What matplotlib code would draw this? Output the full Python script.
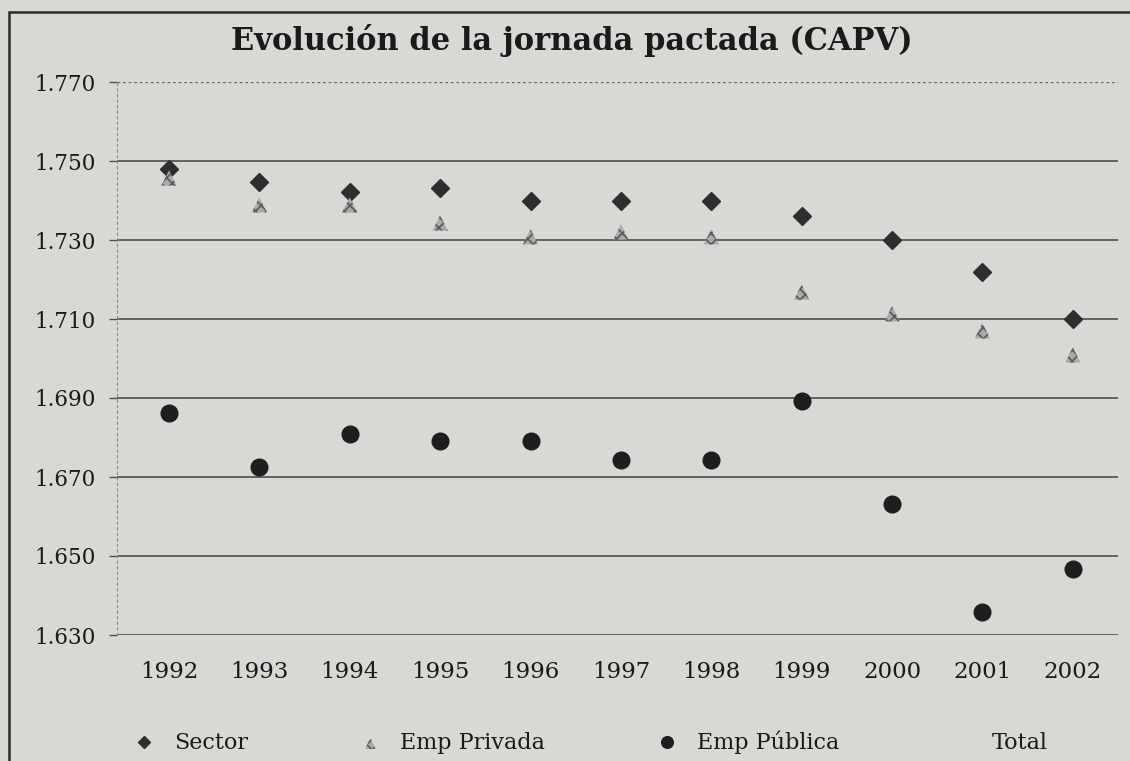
import numpy as np
import matplotlib
matplotlib.use("Agg")
import matplotlib.pyplot as plt
from matplotlib.patches import Rectangle
from matplotlib.ticker import FuncFormatter

years = ["1992", "1993", "1994", "1995", "1996", "1997", "1998", "1999", "2000", "2001", "2002"]
sector = [1748, 1744.7, 1742.2, 1743.2, 1740, 1740, 1740, 1736, 1730, 1722, 1710]
privada = [1745.7, 1738.9, 1738.9, 1734.3, 1730.8, 1732, 1730.8, 1716.8, 1711.3, 1707, 1700.9]
publica = [1686.2, 1672.5, 1681, 1679, 1679, 1674.3, 1674.3, 1689.2, 1663.2, 1635.8, 1646.7]
y_ticks = [1630, 1650, 1670, 1690, 1710, 1730, 1750, 1770]

BG = "#d8d8d5"
plt.rcParams["font.family"] = ["DejaVu Serif"]
plt.rcParams["hatch.linewidth"] = 1.2

fig = plt.figure(figsize=(11.3, 7.61), dpi=100, facecolor=BG)
ax = fig.add_axes([117 / 1130, 1 - 635 / 761, (1118 - 117) / 1130, (635 - 82) / 761])
ax.set_facecolor(BG)

x = np.arange(len(years))
ax.plot(x, sector, ls="none", marker="D", ms=9, color="#2e2e2e", label="Sector", zorder=3)
ax.scatter(x, privada, marker="^", s=120, facecolor="#a9a9a9", edgecolor="#5a5a5a",
           linewidth=0, hatch="xxx", label="Emp Privada", zorder=3)
ax.plot(x, publica, ls="none", marker="o", ms=12, color="#1e1e1e", label="Emp Pública", zorder=3)
ax.plot([], [], ls="none", label="Total")

ax.set_xlim(-0.575, 10.5)
ax.set_ylim(1630, 1770)
ax.set_yticks(y_ticks)
ax.yaxis.set_major_formatter(FuncFormatter(lambda v, p: f"{v/1000:.3f}"))
ax.set_xticks(x)
ax.set_xticklabels(years)

# horizontal grid: solid except the top one, which is dotted
for v in y_ticks[:-1]:
    ax.axhline(v, color="#4d4d4d", lw=1.2, zorder=1)
ax.axhline(1770, color="#6a6a6a", lw=1.0, ls=(0, (2, 2)), zorder=1)

for s in ["top", "right", "bottom"]:
    ax.spines[s].set_visible(False)
ax.spines["left"].set_color("#8a8a8a")
ax.spines["left"].set_linestyle((0, (2, 3)))
ax.spines["left"].set_linewidth(0.8)

ax.tick_params(axis="y", length=6, width=1, color="#4d4d4d", pad=9, labelsize=15.5, labelcolor="#1a1a1a")
ax.tick_params(axis="x", length=0, pad=19, labelsize=16.5, labelcolor="#1a1a1a")

fig.text(0.506, 0.947, "Evolución de la jornada pactada (CAPV)", ha="center", va="center",
         fontsize=22, fontweight="bold", color="#1a1a1a")

fig.legend(loc="center left", bbox_to_anchor=(0.100, 0.024), ncol=4, frameon=False,
           fontsize=16, handlelength=1.0, handletextpad=0.85, columnspacing=5.0,
           markerscale=0.7, labelcolor="#1a1a1a")

# outer frame of the scanned chart
fig.patches.append(Rectangle((9 / 1130, -0.2), 1.2, 1.2 - 12 / 761, transform=fig.transFigure,
                             fill=False, edgecolor="#2a2a2a", lw=1.8, clip_on=False))

fig.savefig("out.png", dpi=100, facecolor=BG)
